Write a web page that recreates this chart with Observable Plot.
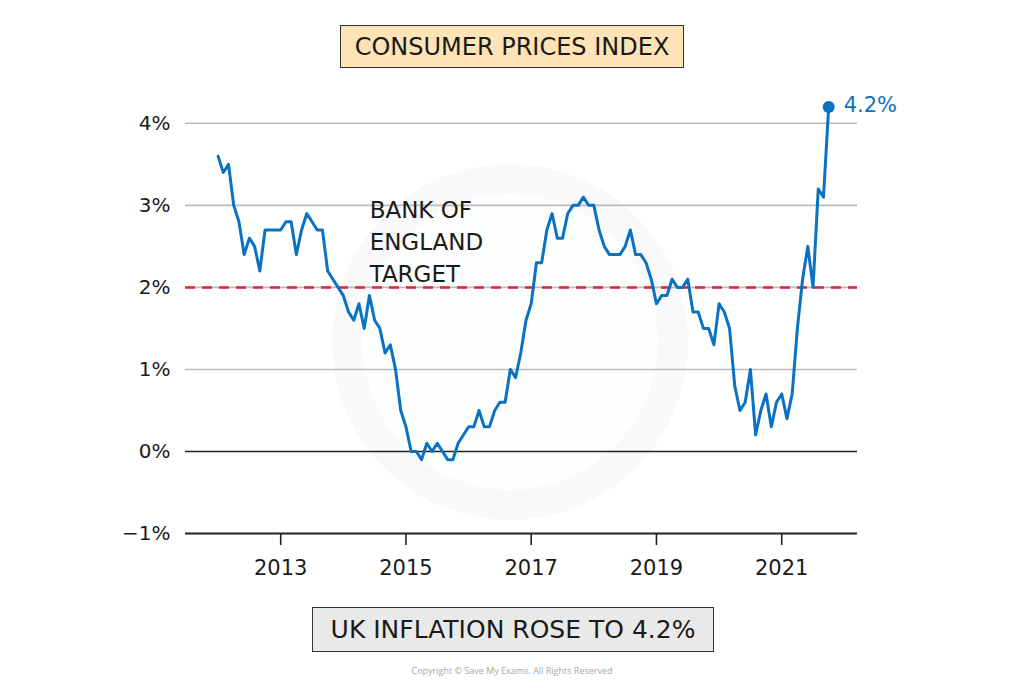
<!DOCTYPE html>
<html>
<head>
<meta charset="utf-8">
<script src="https://cdn.jsdelivr.net/npm/d3@7"></script>
<script src="https://cdn.jsdelivr.net/npm/@observablehq/plot@0.6"></script>
<style>
  html, body { margin: 0; padding: 0; background: #ffffff; }
  body { width: 1024px; height: 688px; position: relative; overflow: hidden;
         font-family: "DejaVu Sans", sans-serif; color: #1a1a1a; }
  #title { position: absolute; left: 340px; top: 25px; width: 344px; height: 43px;
           box-sizing: border-box; border: 1.5px solid #333; background: #fde3b6;
           display: flex; align-items: center; justify-content: center;
           font-size: 24px; }
  #chart { position: absolute; left: 0; top: 90px; z-index: 1; }
  #caption { position: absolute; left: 312px; top: 607px; width: 402px; height: 45px;
             box-sizing: border-box; border: 1.5px solid #333; background: #e9e9e9;
             display: flex; align-items: center; justify-content: center;
             font-size: 25px; }
  #copy { position: absolute; left: 0; width: 1024px; top: 664px; text-align: center;
          font-family: "Open Sans", sans-serif; font-size: 9px; color: #a8a8a8; }
  #mark { position: absolute; left: 332px; top: 164px; width: 356px; height: 356px;
          border-radius: 50%; box-sizing: border-box; border: 30px solid #f7f9fb;
          background: #fdfefe; z-index: 0; }
</style>
</head>
<body>
<div id="mark"></div>
<div id="title">CONSUMER PRICES INDEX</div>
<div id="chart"></div>
<div id="caption">UK INFLATION ROSE TO 4.2%</div>
<div id="copy">Copyright © Save My Exams. All Rights Reserved</div>
<script>
// UK CPI annual rate (%), monthly from Jan 2012 to Oct 2021
const startYear = 2012;
const cpi = [
  3.6, 3.4, 3.5, 3.0, 2.8, 2.4, 2.6, 2.5, 2.2, 2.7, 2.7, 2.7,
  2.7, 2.8, 2.8, 2.4, 2.7, 2.9, 2.8, 2.7, 2.7, 2.2, 2.1, 2.0,
  1.9, 1.7, 1.6, 1.8, 1.5, 1.9, 1.6, 1.5, 1.2, 1.3, 1.0, 0.5,
  0.3, 0.0, 0.0, -0.1, 0.1, 0.0, 0.1, 0.0, -0.1, -0.1, 0.1, 0.2,
  0.3, 0.3, 0.5, 0.3, 0.3, 0.5, 0.6, 0.6, 1.0, 0.9, 1.2, 1.6,
  1.8, 2.3, 2.3, 2.7, 2.9, 2.6, 2.6, 2.9, 3.0, 3.0, 3.1, 3.0,
  3.0, 2.7, 2.5, 2.4, 2.4, 2.4, 2.5, 2.7, 2.4, 2.4, 2.3, 2.1,
  1.8, 1.9, 1.9, 2.1, 2.0, 2.0, 2.1, 1.7, 1.7, 1.5, 1.5, 1.3,
  1.8, 1.7, 1.5, 0.8, 0.5, 0.6, 1.0, 0.2, 0.5, 0.7, 0.3, 0.6,
  0.7, 0.4, 0.7, 1.5, 2.1, 2.5, 2.0, 3.2, 3.1, 4.2
];
const xTicks = [2013, 2015, 2017, 2019, 2021];
const yTicks = [-1, 0, 1, 2, 3, 4];
const gridValues = [1, 2, 3, 4];
const targetRate = [2];
const targetLabel = ["BANK OF\nENGLAND\nTARGET"];

const data = cpi.map((v, i) => ({ t: startYear + i / 12, v }));
const last = data[data.length - 1];
const blue = "#0b72c2";

const chart = Plot.plot({
  width: 1024,
  height: 500,
  marginLeft: 185,
  marginRight: 167,
  marginTop: 0,
  marginBottom: 57,
  x: { domain: [2011.48, 2022.21], label: null },
  y: { domain: [-1, 4.4], label: null },
  style: { background: "transparent", fontFamily: "'DejaVu Sans', sans-serif", color: "#1a1a1a", overflow: "visible" },
  marks: [
    Plot.ruleY(gridValues, { stroke: "#bcbcbc", strokeWidth: 1.6 }),
    Plot.ruleY(targetRate, { stroke: "#e0243c", strokeWidth: 2.5, strokeDasharray: "10,7" }),
    Plot.ruleY([0], { stroke: "#222", strokeWidth: 1.6 }),
    Plot.ruleY([-1], { stroke: "#222", strokeWidth: 2 }),
    Plot.axisX({ ticks: xTicks, tickFormat: d => String(d), tickSize: 12, tickPadding: 15,
                 fontSize: 21, stroke: "#222", strokeWidth: 1.6, fill: "#1a1a1a" }),
    Plot.axisY({ ticks: yTicks, tickSize: 0, tickPadding: 15, fontSize: 20, fill: "#1a1a1a",
                 tickFormat: d => (d < 0 ? "\u2212" : "") + Math.abs(d) + "%" }),
    Plot.text(targetLabel, { x: () => 2014.42, y: () => 3.12, text: d => d, textAnchor: "start",
                             lineAnchor: "top", lineHeight: 1.38, fontSize: 23, fill: "#1a1a1a" }),
    Plot.lineY(data, { x: "t", y: "v", stroke: blue, strokeWidth: 3, strokeLinejoin: "round", strokeLinecap: "round" }),
    Plot.dot([last], { x: "t", y: "v", r: 6, fill: blue }),
    Plot.text([last], { x: "t", y: "v", text: d => d.v.toFixed(1) + "%", dx: 15, dy: -2, textAnchor: "start",
                        fontSize: 21, fill: blue })
  ]
});
document.getElementById("chart").appendChild(chart);
</script>
</body>
</html>
